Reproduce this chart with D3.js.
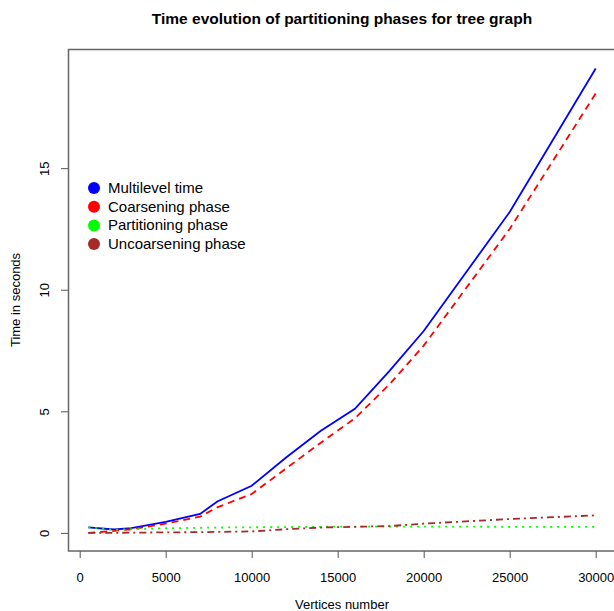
<!DOCTYPE html>
<html>
<head>
<meta charset="utf-8">
<script src="https://cdn.jsdelivr.net/npm/d3@7"></script>
<style>
    body { margin: 0; background: #fff; }
    text { font-family: "Liberation Sans", Arial, sans-serif; fill: #000; }
</style>
</head>
<body>
<script>
(function(){

    //chart values
    var vertices = [500, 2000, 3000, 5000, 7000, 8000, 10000, 12000, 14000, 16000, 18000, 20000, 25000, 30000];
    var multilevel = [0.23, 0.14, 0.2, 0.45, 0.78, 1.29, 1.94, 3.1, 4.19, 5.1, 6.65, 8.3, 13.2, 19.1];
    var coarsening = [0.0, 0.08, 0.15, 0.38, 0.67, 1.05, 1.6, 2.65, 3.7, 4.71, 6.1, 7.7, 12.5, 18.07];
    var partitioning = [0.23, 0.13, 0.15, 0.19, 0.21, 0.22, 0.23, 0.24, 0.25, 0.26, 0.26, 0.26, 0.25, 0.25];
    var uncoarsening = [0.0, 0.0, 0.01, 0.02, 0.03, 0.04, 0.06, 0.15, 0.22, 0.25, 0.28, 0.38, 0.57, 0.72];

    var xTicks = [0, 5000, 10000, 15000, 20000, 25000, 30000];
    var yTicks = [0, 5, 10, 15];

    var seriesNames = ["Multilevel time", "Coarsening phase", "Partitioning phase", "Uncoarsening phase"];
    var seriesValues = [multilevel, coarsening, partitioning, uncoarsening];
    var seriesColors = ["#0000ff", "#ff0000", "#00ff00", "#a52a2a"];
    var seriesDash = [null, "7,5", "2,5", "7,4,2,4"];

    var width = 614,
        height = 611;

    var svg = d3.select("body")
        .append("svg")
        .attr("width", width)
        .attr("height", height);

    //plot region, R style 4% padding around data range
    var x = d3.scaleLinear()
        .domain([-680, 31180])
        .range([68, 616]);

    var y = d3.scaleLinear()
        .domain([-0.745, 19.9])
        .range([551, 49]);

    //clip lines to the box
    svg.append("clipPath")
        .attr("id", "plotclip")
        .append("rect")
        .attr("x", 68)
        .attr("y", 49)
        .attr("width", 548)
        .attr("height", 502);

    //x axis
    var xAxis = d3.axisBottom(x)
        .tickValues(xTicks)
        .tickSize(7)
        .tickPadding(15)
        .tickFormat(d3.format("d"));

    var gx = svg.append("g")
        .attr("class", "axis")
        .attr("transform", "translate(0,551)")
        .call(xAxis);
    gx.select(".domain").remove();
    gx.selectAll("line").attr("stroke", "#555");
    gx.selectAll("text")
        .style("font-size", "13px")
        .attr("fill", "#000");

    //y axis, labels turned like in R
    var yAxis = d3.axisLeft(y)
        .tickValues(yTicks)
        .tickSize(7);

    var gy = svg.append("g")
        .attr("class", "axis")
        .attr("transform", "translate(68,0)")
        .call(yAxis);
    gy.select(".domain").remove();
    gy.selectAll("line").attr("stroke", "#555");
    gy.selectAll("text")
        .style("font-size", "13px")
        .attr("fill", "#000")
        .attr("x", 0)
        .attr("dy", 0)
        .attr("text-anchor", "middle")
        .attr("transform", "translate(-19,0) rotate(-90)");

    //series lines
    var line = d3.line()
        .x(function(d, i){ return x(vertices[i]); })
        .y(function(d){ return y(d); });

    var lines = svg.append("g")
        .attr("clip-path", "url(#plotclip)");

    seriesValues.forEach(function(vals, k){
        lines.append("path")
            .datum(vals)
            .attr("fill", "none")
            .attr("stroke", seriesColors[k])
            .attr("stroke-width", 1.8)
            .attr("stroke-dasharray", seriesDash[k])
            .attr("d", line);
    });

    //frame
    svg.append("rect")
        .attr("x", 68.5)
        .attr("y", 49.5)
        .attr("width", 560)
        .attr("height", 501.5)
        .attr("fill", "none")
        .attr("stroke", "#666")
        .attr("stroke-width", 1.5);

    //legend
    var legend = svg.append("g")
        .attr("class", "legend");

    seriesNames.forEach(function(name, k){
        var ly = 188 + k * 18.7;
        legend.append("circle")
            .attr("cx", 94)
            .attr("cy", ly)
            .attr("r", 6)
            .attr("fill", seriesColors[k]);
        legend.append("text")
            .attr("x", 108)
            .attr("y", ly + 5)
            .style("font-size", "15px")
            .text(name);
    });

    //titles
    svg.append("text")
        .attr("x", 342)
        .attr("y", 24)
        .attr("text-anchor", "middle")
        .style("font-size", "15.5px")
        .style("font-weight", "bold")
        .text("Time evolution of partitioning phases for tree graph");

    svg.append("text")
        .attr("x", 342)
        .attr("y", 609)
        .attr("text-anchor", "middle")
        .style("font-size", "13px")
        .text("Vertices number");

    svg.append("text")
        .attr("transform", "translate(20,300) rotate(-90)")
        .attr("text-anchor", "middle")
        .style("font-size", "13px")
        .text("Time in seconds");

})();
</script>
</body>
</html>
